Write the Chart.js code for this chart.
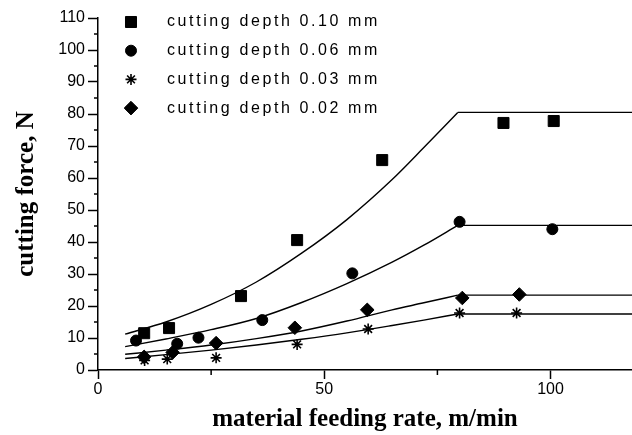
<!DOCTYPE html>
<html>
<head>
<meta charset="utf-8">
<script src="https://cdn.jsdelivr.net/npm/chart.js@4.4.1/dist/chart.umd.min.js"></script>
<style>
  html, body { margin: 0; padding: 0; background: #fff; }
  #wrap { width: 632px; height: 435px; }
</style>
</head>
<body>
<div id="wrap"><canvas id="chart" width="632" height="435"></canvas></div>
<script>
// measured points, one pair of arrays per cutting depth
const x010 = [10.2, 15.7, 31.6, 44.0, 62.8, 89.6, 100.7];
const y010 = [11.5, 13.1, 23.1, 40.6, 65.6, 77.2, 77.8];
const x006 = [8.4, 17.5, 22.2, 36.3, 56.2, 79.9, 100.4];
const y006 = [9.2, 8.2, 10.1, 15.6, 30.2, 46.3, 44.0];
const x003 = [10.3, 15.3, 26.1, 44.0, 59.7, 79.9, 92.5];
const y003 = [3.0, 3.4, 3.8, 8.0, 12.8, 17.8, 17.8];
const x002 = [10.2, 16.5, 26.1, 43.5, 59.5, 80.5, 93.1];
const y002 = [4.1, 5.5, 8.4, 13.2, 18.8, 22.5, 23.6];

// fitted curves (rising part) and the flat part after saturation
const fitX = [6, 15, 25, 35, 45, 55, 65, 72, 79.5];
const fit010 = [11.2, 15.0, 20.5, 27.5, 36.5, 47.0, 59.5, 69.5, 80.5];
const fit006 = [7.3, 9.7, 12.6, 16.1, 21.1, 27.0, 33.7, 39.0, 45.2];
const fit003 = [3.6, 4.8, 6.2, 7.8, 9.6, 11.6, 13.9, 15.6, 17.5];
const fit002 = [4.9, 6.2, 7.8, 9.8, 12.2, 15.3, 18.8, 21.0, 23.4];
const plateauX = [79.5, 118];

const xTicks = [0, 50, 100];
const xMinor = [25, 75];
const yTicks = [0, 10, 20, 30, 40, 50, 60, 70, 80, 90, 100, 110];
const yMinor = [5, 15, 25, 35, 45, 55, 65, 75, 85, 95, 105];

const legendLabels = ['cutting depth 0.10 mm', 'cutting depth 0.06 mm', 'cutting depth 0.03 mm', 'cutting depth 0.02 mm'];

const pts = (xs, ys) => xs.map((x, i) => ({ x: x, y: ys[i] }));
const flat = (ys) => plateauX.map(x => ({ x: x, y: ys[ys.length - 1] }));

function markerSet(data, style, radius) {
    return {
        type: 'scatter',
        data: data,
        pointStyle: style,
        pointRadius: radius,
        pointBorderWidth: style === 'star' ? 1.6 : 1,
        backgroundColor: '#000',
        borderColor: '#000',
        showLine: false
    };
}

function fitSet(data, curved) {
    return {
        type: 'line',
        data: data,
        borderColor: '#000',
        borderWidth: 1.4,
        pointRadius: 0,
        fill: false,
        cubicInterpolationMode: curved ? 'monotone' : 'default',
        tension: curved ? 0.4 : 0
    };
}

// short minor ticks on both axes
const minorTicks = {
    id: 'minorTicks',
    afterDraw(chart) {
        const { ctx, scales: { x, y } } = chart;
        ctx.save();
        ctx.strokeStyle = '#000';
        ctx.lineWidth = 1.5;
        ctx.beginPath();
        xMinor.forEach(v => {
            const px = x.getPixelForValue(v);
            ctx.moveTo(px, x.top);
            ctx.lineTo(px, x.top + 5);
        });
        yMinor.forEach(v => {
            const py = y.getPixelForValue(v);
            ctx.moveTo(y.right, py);
            ctx.lineTo(y.right - 4, py);
        });
        ctx.stroke();
        ctx.restore();
    }
};

// legend box inside the plot, top left
const legendBox = {
    id: 'legendBox',
    afterDraw(chart) {
        const ctx = chart.ctx;
        ctx.save();
        ctx.fillStyle = '#000';
        ctx.strokeStyle = '#000';
        ctx.font = '16px "Liberation Sans"';
        ctx.letterSpacing = '2.6px';
        ctx.textBaseline = 'middle';
        legendLabels.forEach((label, i) => {
            const ds = chart.data.datasets[i];
            const yy = 22 + i * 28.7;
            ctx.lineWidth = ds.pointBorderWidth;
            Chart.helpers.drawPoint(ctx, {
                pointStyle: ds.pointStyle,
                radius: ds.pointRadius,
                borderWidth: ds.pointBorderWidth,
                rotation: 0
            }, 131, yy);
            ctx.fillText(label, 167, yy);
        });
        ctx.restore();
    }
};

const tickFont = { family: 'Liberation Sans', size: 16 };
const titleFont = { family: 'Liberation Serif', size: 25, weight: 'bold' };

new Chart(document.getElementById('chart'), {
    type: 'scatter',
    data: {
        datasets: [
            markerSet(pts(x010, y010), 'rect', 7.8),
            markerSet(pts(x006, y006), 'circle', 5.5),
            markerSet(pts(x003, y003), 'star', 5.5),
            markerSet(pts(x002, y002), 'rectRot', 6.8),
            fitSet(pts(fitX, fit010), true),
            fitSet(flat(fit010), false),
            fitSet(pts(fitX, fit006), true),
            fitSet(flat(fit006), false),
            fitSet(pts(fitX, fit003), true),
            fitSet(flat(fit003), false),
            fitSet(pts(fitX, fit002), true),
            fitSet(flat(fit002), false)
        ]
    },
    options: {
        responsive: false,
        animation: false,
        devicePixelRatio: 1,
        layout: { autoPadding: false, padding: { top: 18, right: 0, left: 0, bottom: 0 } },
        plugins: {
            legend: { display: false },
            tooltip: { enabled: false }
        },
        scales: {
            x: {
                type: 'linear',
                min: 0,
                max: 118,
                afterBuildTicks: s => { s.ticks = xTicks.map(v => ({ value: v })); },
                afterFit: s => {
                    s.height = 65;
                    s.paddingLeft = 0;
                    s.paddingRight = 0;
                },
                border: { color: '#000', width: 1.5 },
                grid: { drawOnChartArea: false, tickLength: 9, tickColor: '#000', tickWidth: 1.5 },
                ticks: { font: tickFont, color: '#000', padding: 1, maxRotation: 0 },
                title: {
                    display: true,
                    text: 'material feeding rate, m/min',
                    font: titleFont,
                    color: '#000',
                    padding: { top: 0, bottom: 0 }
                }
            },
            y: {
                type: 'linear',
                min: 0,
                max: 110,
                afterBuildTicks: s => { s.ticks = yTicks.map(v => ({ value: v })); },
                afterFit: s => { s.width = 98; },
                border: { color: '#000', width: 1.5 },
                grid: { drawOnChartArea: false, tickLength: 10, tickColor: '#000', tickWidth: 1.5 },
                ticks: { font: tickFont, color: '#000', padding: 3 },
                title: {
                    display: true,
                    text: 'cutting force, N',
                    font: titleFont,
                    color: '#000',
                    padding: { top: 12, bottom: 0 }
                }
            }
        }
    },
    plugins: [minorTicks, legendBox]
});
</script>
</body>
</html>
